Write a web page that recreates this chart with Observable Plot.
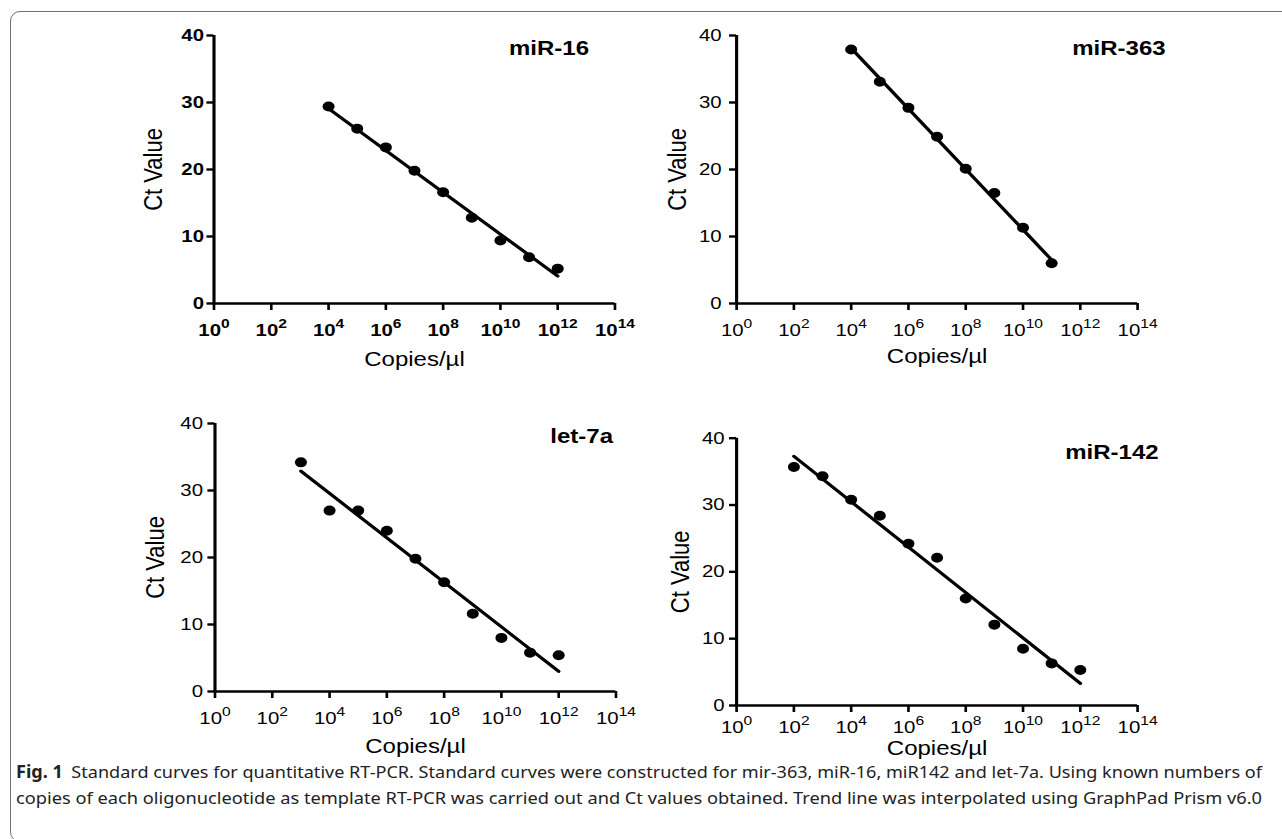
<!DOCTYPE html>
<html>
<head>
<meta charset="utf-8">
<script src="https://cdn.jsdelivr.net/npm/d3@7"></script>
<script src="https://cdn.jsdelivr.net/npm/@observablehq/plot@0.6"></script>
<style>
  html, body { margin: 0; padding: 0; background: #fff; }
  body { width: 1282px; height: 839px; overflow: hidden; position: relative; font-family: "Liberation Sans", Arial, Helvetica, sans-serif; }
  #frame { position: absolute; left: 10px; top: 11px; width: 1300px; height: 831px; border: 1.5px solid #6e6e6e; border-radius: 10px; box-sizing: border-box; }
  #fig { position: absolute; left: 0; top: 0; width: 1070px; height: 760px; transform: scaleX(1.2); transform-origin: 0 0; }
  #caption { position: absolute; left: 0; top: 745px; }
</style>
</head>
<body>
<div id="frame"></div>
<div id="fig"></div>
<svg id="caption" width="1282" height="94"></svg>
<script>
// ---------- data ----------
const xTicks = [1e0, 1e2, 1e4, 1e6, 1e8, 1e10, 1e12, 1e14];
const yTicks = [0, 10, 20, 30, 40];
const xLabel = "Copies/µl";
const yLabel = "Ct Value";
const titles = ["miR-16", "miR-363", "let-7a", "miR-142"];

const miR16Copies = [1e4, 1e5, 1e6, 1e7, 1e8, 1e9, 1e10, 1e11, 1e12];
const miR16Ct = [29.4, 26.1, 23.3, 19.8, 16.6, 12.8, 9.4, 6.9, 5.2];
const miR16FitCopies = [1e4, 1e12];
const miR16FitCt = [29.1, 4.1];

const miR363Copies = [1e4, 1e5, 1e6, 1e7, 1e8, 1e9, 1e10, 1e11];
const miR363Ct = [37.9, 33.1, 29.2, 24.9, 20.1, 16.5, 11.3, 6.0];
const miR363FitCopies = [1e4, 1e11];
const miR363FitCt = [38.1, 6.5];

const let7aCopies = [1e3, 1e4, 1e5, 1e6, 1e7, 1e8, 1e9, 1e10, 1e11, 1e12];
const let7aCt = [34.2, 27.0, 27.0, 24.0, 19.8, 16.3, 11.6, 8.0, 5.8, 5.4];
const let7aFitCopies = [1e3, 1e12];
const let7aFitCt = [32.9, 3.0];

const miR142Copies = [1e2, 1e3, 1e4, 1e5, 1e6, 1e7, 1e8, 1e9, 1e10, 1e11, 1e12];
const miR142Ct = [35.7, 34.3, 30.8, 28.4, 24.2, 22.1, 16.0, 12.1, 8.5, 6.3, 5.3];
const miR142FitCopies = [1e2, 1e12];
const miR142FitCt = [37.3, 3.3];

const captionBold = "Fig. 1";
const captionLine1 = "Standard curves for quantitative RT-PCR. Standard curves were constructed for mir-363, miR-16, miR142 and let-7a. Using known numbers of";
const captionLine2 = "copies of each oligonucleotide as template RT-PCR was carried out and Ct values obtained. Trend line was interpolated using GraphPad Prism v6.0";

// ---------- layout ----------
const K = 1.2; // horizontal stretch of the figure
const ns = "http://www.w3.org/2000/svg";
const fontFamily = '"Liberation Sans", Arial, Helvetica, sans-serif';
const layouts = [
  {left: 110, top: 20,  x0: 213, x1: 614,  yTop: 35,    yBot: 303, bold: true,  xPad: 20, yGap: 3, titleRight: 588,  titleDy: 5, yLabelX: 153, xLabelDy: 48},
  {left: 630, top: 20,  x0: 736, x1: 1137, yTop: 35,    yBot: 303, bold: false, xPad: 20, yGap: 8, titleRight: 1165, titleDy: 5, yLabelX: 677, xLabelDy: 45},
  {left: 110, top: 400, x0: 214, x1: 615,  yTop: 423,   yBot: 691, bold: false, xPad: 20, yGap: 5, titleRight: 612,  titleDy: 5, yLabelX: 155, xLabelDy: 47},
  {left: 630, top: 400, x0: 736, x1: 1137, yTop: 437.7, yBot: 705, bold: false, xPad: 15, yGap: 5, titleRight: 1158, titleDy: 7, yLabelX: 680, xLabelDy: 35}
];

const fig = document.getElementById("fig");

function panel(i, copies, ct, fitCopies, fitCt) {
  const L = layouts[i];
  const marginLeft = (L.x0 - L.left) / K;
  const marginRight = 40 / K;
  const plotW = (L.x1 - L.x0) / K;
  const marginTop = L.yTop - L.top;
  const marginBottom = 85;
  const width = marginLeft + plotW + marginRight;
  const height = marginTop + (L.yBot - L.yTop) + marginBottom;
  const pts = copies.map((c, j) => ({copies: c, ct: ct[j]}));
  const fit = fitCopies.map((c, j) => ({copies: c, ct: fitCt[j]}));
  const weight = L.bold ? "bold" : "normal";
  const tickSizeY = 7 / K;
  const tickSizeX = 7;

  const chart = Plot.plot({
    width, height, marginLeft, marginRight, marginTop, marginBottom,
    style: {fontFamily, background: "transparent", overflow: "visible", color: "#000"},
    x: {type: "log", domain: [1, 1e14]},
    y: {domain: [0, 40]},
    marks: [
      Plot.axisY({ticks: yTicks, tickSize: tickSizeY, tickPadding: L.yGap / K, fontSize: 17, fontWeight: weight,
                  strokeWidth: 2.4, tickFormat: d => String(d), label: null}),
      Plot.axisX({ticks: xTicks, tickSize: tickSizeX, tickPadding: L.xPad - tickSizeX, fontSize: 17, fontWeight: weight,
                  strokeWidth: 2.2, tickFormat: d => "10^" + Math.round(Math.log10(d)), label: null}),
      Plot.ruleX([1], {y1: 0, y2: 40, strokeWidth: 2.6}),
      Plot.ruleY([0], {x1: 1, x2: 1e14, strokeWidth: 2.7}),
      Plot.line(fit, {x: "copies", y: "ct", strokeWidth: 3}),
      Plot.dot(pts, {x: "copies", y: "ct", r: 5, fill: "#000", stroke: "none"}),
      Plot.text([titles[i]], {frameAnchor: "top-right", textAnchor: "end", lineAnchor: "top",
                              dx: (L.titleRight - L.x1) / K, dy: L.titleDy, fontSize: 20, fontWeight: "bold"}),
      Plot.text([yLabel], {frameAnchor: "left", rotate: -90, textAnchor: "middle", lineAnchor: "middle",
                           dx: (L.yLabelX - L.x0) / K, fontSize: 22}),
      Plot.text([xLabel], {frameAnchor: "bottom", textAnchor: "middle", lineAnchor: "top",
                           dy: L.xLabelDy, fontSize: 20})
    ]
  });

  // superscript exponents in x tick labels
  chart.querySelectorAll('g[aria-label="x-axis tick label"] text').forEach(t => {
    const s = t.textContent;
    if (!s.includes("^")) return;
    const [b, e] = s.split("^");
    t.textContent = "";
    const t1 = document.createElementNS(ns, "tspan");
    t1.textContent = b;
    const t2 = document.createElementNS(ns, "tspan");
    t2.textContent = e;
    t2.setAttribute("dy", "-0.55em");
    t2.setAttribute("font-size", "13");
    t.appendChild(t1);
    t.appendChild(t2);
  });
  if (L.bold) {
    chart.querySelectorAll('g[aria-label="x-axis tick label"], g[aria-label="y-axis tick label"]').forEach(g => g.setAttribute("font-weight", "bold"));
  }

  chart.style.position = "absolute";
  chart.style.left = (L.left / K) + "px";
  chart.style.top = L.top + "px";
  fig.appendChild(chart);
}

panel(0, miR16Copies, miR16Ct, miR16FitCopies, miR16FitCt);
panel(1, miR363Copies, miR363Ct, miR363FitCopies, miR363FitCt);
panel(2, let7aCopies, let7aCt, let7aFitCopies, let7aFitCt);
panel(3, miR142Copies, miR142Ct, miR142FitCopies, miR142FitCt);

// ---------- caption ----------
const cap = document.getElementById("caption");
function capLine(y, parts) {
  const t = document.createElementNS(ns, "text");
  t.setAttribute("x", 16);
  t.setAttribute("y", y);
  t.setAttribute("font-family", '"Noto Sans", "Open Sans", sans-serif');
  t.setAttribute("font-size", "17");
  t.setAttribute("fill", "#222");
  t.setAttribute("textLength", "1246");
  t.setAttribute("lengthAdjust", "spacingAndGlyphs");
  parts.forEach(p => {
    const s = document.createElementNS(ns, "tspan");
    s.textContent = p.text;
    if (p.bold) s.setAttribute("font-weight", "bold");
    if (p.dx) s.setAttribute("dx", p.dx);
    t.appendChild(s);
  });
  cap.appendChild(t);
}
capLine(33, [{text: captionBold, bold: true}, {text: captionLine1, dx: 8}]);
capLine(59, [{text: captionLine2}]);
</script>
</body>
</html>
